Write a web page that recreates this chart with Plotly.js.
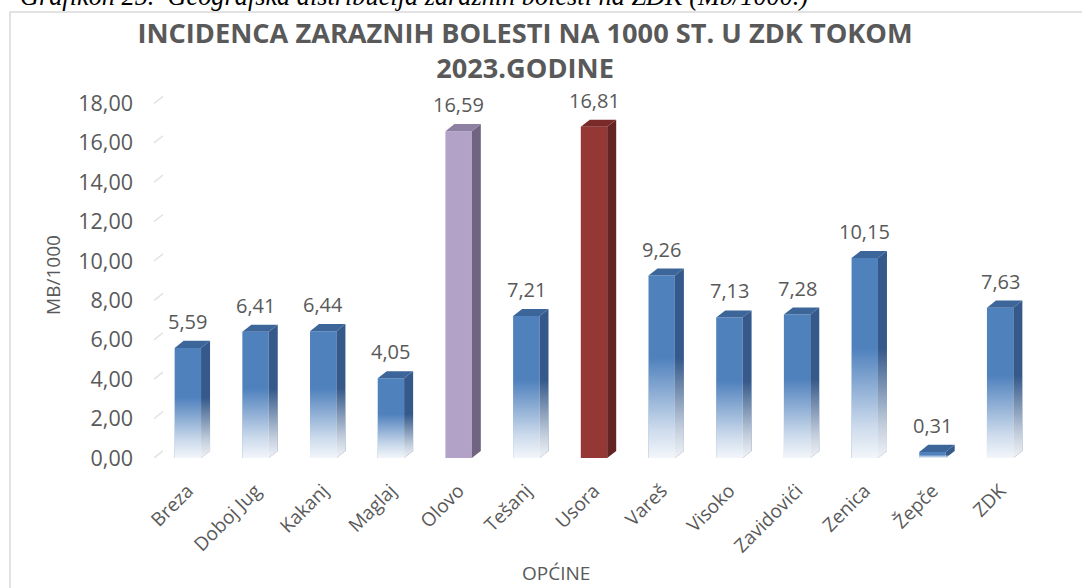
<!DOCTYPE html>
<html><head><meta charset="utf-8">
<script src="https://cdn.plot.ly/plotly-3.0.1.min.js"></script>
<style>html,body{margin:0;padding:0;background:#fff}#chart{width:1082px;height:588px}</style>
</head><body><div id="chart"></div>
<script>
// ---- data ----
const categories = ['Breza','Doboj Jug','Kakanj','Maglaj','Olovo','Tešanj','Usora','Vareš','Visoko','Zavidovići','Zenica','Žepče','ZDK'];
const values = [5.59,6.41,6.44,4.05,16.59,7.21,16.81,9.26,7.13,7.28,10.15,0.31,7.63];
const yTicks = [0,2,4,6,8,10,12,14,16,18];
const titleLines = ['INCIDENCA ZARAZNIH BOLESTI NA 1000 ST. U ZDK TOKOM','2023.GODINE'];
const captionText = 'Grafikon 25.\u00a0 Geografska distribucija zaraznih bolesti na ZDK (Mb/1000.)';
const yTitle = 'MB/1000';
const xTitle = 'OPĆINE';

// ---- styles ----
const styles = {
  base:  {front:'#4F81BD', side:'#34598A', top:'#3C669A', fade:true},
  Olovo: {front:'#B3A2C7', side:'#716480', top:'#8E80A2', fade:false},
  Usora: {front:'#953735', side:'#632423', top:'#7A2B29', fade:false}
};
const TXT = '#595959';
const FONT = 'Open Sans, sans-serif';
const W = 0.39;      // bar width (category units)
const DX = 0.133;    // 3D depth, x (category units)
const DY = 0.36;     // 3D depth, y (value units)
const YMAX = 18.58;
const ML = 154, MR = 38, MT = 92, MB = 130;
const PW = 1082 - ML - MR, PH = 588 - MT - MB;
const XDOM = 880 / PW;
const px = x => (x - ML) / PW;          // page x -> paper x
const py = y => 1 + (MT - y) / PH;      // page y -> paper y

const fmt = v => v.toFixed(2).replace('.', ',');
const st = c => styles[c] || styles.base;
const idx = categories.map((_, i) => i);

const traces = [];
traces.push({
  type:'bar', x: idx, y: values, width: W,
  marker:{color: categories.map(c => st(c).front), line:{width:0}},
  text: values.map(fmt), textposition:'none',
  hovertemplate:'%{customdata}: %{text}<extra></extra>', customdata: categories,
  showlegend:false
});
categories.forEach((c, i) => {
  const v = values[i], s = st(c), r = i + W/2, l = i - W/2;
  traces.push({type:'scatter', mode:'lines', x:[r, r+DX, r+DX, r, r], y:[0, DY, v+DY, v, 0],
    fill:'toself', fillcolor:s.side, line:{width:0}, hoverinfo:'skip', showlegend:false});
  traces.push({type:'scatter', mode:'lines', x:[l, l+DX, r+DX, r, l], y:[v, v+DY, v+DY, v, v],
    fill:'toself', fillcolor:s.top, line:{width:0}, hoverinfo:'skip', showlegend:false});
  if (s.fade) {
    traces.push({type:'scatter', mode:'lines',
      x:[l, r, r+DX, r+DX, r, l, l], y:[0, 0, DY, v+DY, v, v, 0],
      fill:'toself', line:{width:0}, hoverinfo:'skip', showlegend:false,
      fillgradient:{type:'vertical', start:0, stop:v*0.55,
        colorscale:[[0,'rgba(255,255,255,0.93)'],[0.3,'rgba(255,255,255,0.7)'],[1,'rgba(255,255,255,0)']]}});
  }
});
// left wall/floor corner segments of gridlines
const cx = [], cy = [];
yTicks.forEach(t => { cx.push(-0.5, -0.5 + DX, null); cy.push(t, t + DY, null); });
traces.push({type:'scatter', mode:'lines', x:cx, y:cy, line:{color:'#E2E2E2', width:1.5},
  hoverinfo:'skip', showlegend:false});

const annotations = categories.map((c, i) => ({
  x: i, y: values[i] + DY, xref:'x', yref:'y', text: fmt(values[i]), showarrow:false,
  yanchor:'bottom', yshift:4, font:{family:FONT, size:20, color:TXT}
}));
annotations.push({xref:'paper', yref:'paper', x:px(556), y:py(573), xanchor:'center', yanchor:'middle',
  text:xTitle, showarrow:false, font:{family:FONT, size:19, color:TXT}});
annotations.push({xref:'paper', yref:'paper', x:px(18), y:py(13), xanchor:'left', yanchor:'bottom',
  text:captionText, showarrow:false, font:{family:'Liberation Serif, serif', size:26.3, style:'italic', color:'#000'}});

const layout = {
  width:1082, height:588, margin:{l:ML, r:MR, t:MT, b:MB, pad:0},
  paper_bgcolor:'#fff', plot_bgcolor:'rgba(0,0,0,0)', showlegend:false,
  title:{text: titleLines.join('<br>'), xref:'container', yref:'container', x:525/1082, xanchor:'center',
    y:1-43/588, yanchor:'top', font:{family:FONT, size:27.2, weight:'bold', color:TXT}},
  xaxis:{domain:[0, XDOM], range:[-0.5, 12.5], tickvals: idx, ticktext: categories, tickangle:-45,
    showgrid:false, zeroline:false, showline:false, ticks:'', ticklabelstandoff:17,
    tickfont:{family:FONT, size:19, color:TXT}, fixedrange:true},
  yaxis:{range:[0, YMAX], tickvals: yTicks, ticktext: yTicks.map(fmt), showgrid:false, zeroline:false,
    showline:false, ticks:'', ticklabelstandoff:20, tickfont:{family:FONT, size:21.5, color:TXT},
    title:{text:yTitle, font:{family:FONT, size:19, color:TXT}, standoff:12}, fixedrange:true},
  xaxis2:{domain:[9/PW, 1], anchor:'y2', range:[0,1], showgrid:false, zeroline:false, showline:false,
    showticklabels:false, ticks:'', fixedrange:true},
  yaxis2:{anchor:'x2', range:[-DY, YMAX-DY], tickvals: yTicks, showgrid:true, gridcolor:'#E2E2E2', gridwidth:1.8,
    zeroline:false, showline:false, showticklabels:false, ticks:'', fixedrange:true},
  annotations: annotations,
  shapes:[{type:'rect', xref:'paper', yref:'paper', x0:px(10), x1:1.2, y0:-0.6, y1:py(12),
    line:{color:'#D9D9D9', width:1.5}, fillcolor:'rgba(0,0,0,0)', layer:'below'}]
};
Plotly.newPlot('chart', traces, layout, {displayModeBar:false, staticPlot:true});
</script></body></html>
